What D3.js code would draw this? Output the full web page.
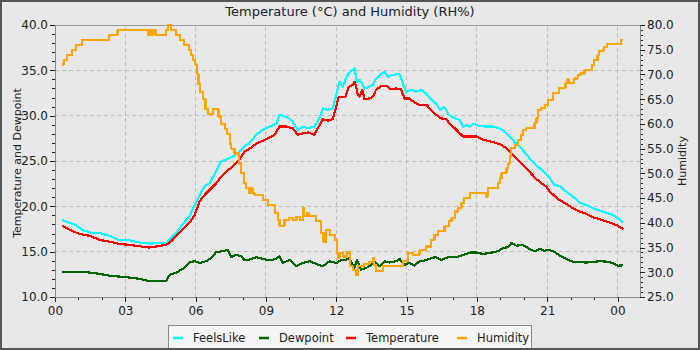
<!DOCTYPE html>
<html>
<head>
<meta charset="utf-8">
<script src="https://cdn.jsdelivr.net/npm/d3@7"></script>
<style>
  body { margin: 0; background: #e8e8e8; }
  svg { display: block; font-family: "DejaVu Sans", sans-serif; }
</style>
</head>
<body>
<svg id="chart"></svg>
<script>
// hour-of-day labels on the x axis (last one is midnight of next day)
const hourTicks = [0, 3, 6, 9, 12, 15, 18, 21, 24]
const hourLabels = ["00", "03", "06", "09", "12", "15", "18", "21", "00"]
const leftTicks = [10, 15, 20, 25, 30, 35, 40]
const rightTicks = [25, 30, 35, 40, 45, 50, 55, 60, 65, 70, 75, 80]

// FeelsLike (°C), hours since midnight
const feelsHours = [0.31, 0.63, 0.91, 1.05, 1.19, 1.62, 1.90, 2.33, 2.76, 3.18, 3.61, 4.01,
    4.75, 4.96, 5.17, 5.46, 5.74, 5.96, 6.17, 6.38, 6.59, 6.88, 7.09, 7.31, 7.59, 7.87, 8.09, 8.27,
    8.59, 8.87, 9.15, 9.44, 9.58, 9.87, 10.08, 10.36, 10.58, 10.79, 11.07, 11.28, 11.43, 11.64, 11.85, 12.03, 12.14, 12.28, 12.42, 12.54,
    12.78, 12.88, 12.99, 13.11, 13.21, 13.42, 13.56, 13.70, 13.92, 14.06, 14.20, 14.41, 14.70, 14.84, 14.98, 15.20, 15.41, 15.62, 15.84, 16.05, 16.26, 16.41, 16.62, 16.80,
    17.06, 17.27, 17.41, 17.56, 17.70, 17.84, 18.12, 18.41, 18.69, 18.97, 19.19, 19.40, 19.62, 19.83, 20.04, 20.25, 20.46, 20.68, 20.89, 21.07,
    21.31, 21.52, 21.80, 22.09, 22.37, 22.66, 22.94, 23.23, 23.51, 23.80, 24.01, 24.25]
const feelsLike = [18.5, 18.15, 17.95, 17.6, 17.35, 17.05, 17.05, 16.75, 16.25, 16.25, 16.0, 15.9,
    15.95, 16.5, 17.05, 18.05, 18.9, 20.15, 21.25, 22.2, 22.55, 23.85, 24.95, 25.15, 25.5, 26.05, 26.65, 26.9,
    27.9, 28.45, 28.8, 29.1, 30.1, 29.85, 29.55, 28.45, 28.8, 28.6, 28.8, 29.7, 30.8, 30.65, 30.8, 32.65, 33.75, 33.2, 34.1, 34.75,
    35.2, 33.75, 33.95, 33.55, 33.0, 33.2, 33.4, 34.1, 34.65, 34.85, 34.3, 34.5, 34.6, 33.55, 32.65, 32.85, 32.65, 32.85, 32.45, 31.75, 31.35, 30.65, 30.95, 30.1,
    29.7, 29.55, 28.8, 29.0, 28.8, 29.1, 28.85, 28.8, 28.8, 28.6, 28.25, 27.7, 27.05, 26.6, 25.95, 25.3, 24.75, 24.2, 23.75, 23.3,
    22.35, 22.25, 21.65, 21.1, 20.45, 20.15, 19.8, 19.55, 19.3, 19.05, 18.7, 18.2]

// Dewpoint (°C)
const dewHours = [0.31, 0.63, 1.05, 1.48, 1.90, 2.33, 2.76, 3.18, 3.61, 4.01,
    4.75, 4.89, 5.17, 5.46, 5.74, 5.96, 6.17, 6.45, 6.66, 6.88, 7.16, 7.38, 7.52, 7.73, 7.94, 8.09, 8.27,
    8.59, 8.87, 9.15, 9.44, 9.58, 9.72, 10.01, 10.29, 10.58, 10.86, 11.14, 11.43, 11.71, 12.00, 12.21, 12.42, 12.54,
    12.78, 12.88, 13.06, 13.28, 13.49, 13.63, 13.85, 14.06, 14.27, 14.56, 14.70, 14.91, 15.12, 15.34, 15.55, 15.84, 16.05, 16.26, 16.48, 16.69, 16.80,
    17.13, 17.41, 17.70, 17.98, 18.27, 18.55, 18.90, 19.12, 19.33, 19.47, 19.69, 19.90, 20.04, 20.25, 20.46, 20.68, 20.89, 21.07,
    21.31, 21.52, 21.80, 22.09, 22.37, 22.66, 22.94, 23.23, 23.51, 23.80, 24.01, 24.25]
const dewpoint = [12.75, 12.75, 12.8, 12.7, 12.55, 12.35, 12.25, 12.15, 12.0, 11.75,
    11.8, 12.45, 12.7, 13.1, 13.85, 13.95, 13.75, 13.95, 14.3, 14.95, 15.05, 15.2, 14.4, 14.65, 14.5, 14.05, 14.1,
    14.4, 14.2, 14.05, 14.2, 14.5, 13.75, 14.1, 13.4, 13.75, 13.95, 13.65, 13.4, 13.95, 13.75, 14.05, 14.1, 14.3,
    13.2, 14.1, 13.0, 13.2, 13.55, 13.95, 13.4, 13.95, 13.8, 13.95, 14.2, 13.55, 13.75, 13.45, 13.95, 14.05, 14.3, 14.4, 14.1, 14.3, 14.4,
    14.4, 14.65, 14.9, 14.9, 14.75, 14.85, 15.05, 15.4, 15.5, 15.95, 15.65, 15.75, 15.65, 15.3, 15.05, 15.3, 15.1, 15.2,
    15.0, 14.6, 14.2, 13.9, 13.85, 13.8, 13.85, 13.95, 13.9, 13.75, 13.45, 13.5]

// Temperature (°C)
const tempHours = [0.31, 0.63, 1.05, 1.48, 1.90, 2.33, 2.76, 3.18, 3.61, 4.01,
    4.75, 4.96, 5.17, 5.46, 5.74, 5.96, 6.17, 6.38, 6.59, 6.88, 7.09, 7.31, 7.59, 7.87, 8.09, 8.27,
    8.59, 8.87, 9.15, 9.37, 9.58, 9.87, 10.15, 10.36, 10.58, 10.79, 11.07, 11.21, 11.43, 11.64, 11.85, 12.00, 12.11, 12.25, 12.39, 12.54,
    12.71, 12.78, 12.85, 12.92, 12.99, 13.11, 13.21, 13.42, 13.56, 13.70, 13.92, 14.13, 14.34, 14.56, 14.77, 14.91, 15.12, 15.34, 15.55, 15.84, 16.05, 16.26, 16.48, 16.69, 16.80,
    17.06, 17.27, 17.41, 17.70, 17.98, 18.20, 18.48, 18.76, 19.05, 19.26, 19.47, 19.69, 19.90, 20.11, 20.32, 20.54, 20.75, 20.96, 21.07,
    21.31, 21.52, 21.80, 22.09, 22.37, 22.66, 22.94, 23.23, 23.51, 23.80, 24.01, 24.25]
const temperature = [17.85, 17.4, 16.95, 16.75, 16.3, 16.1, 15.85, 15.75, 15.6, 15.45,
    15.75, 16.15, 16.7, 17.5, 18.2, 19.05, 20.55, 21.25, 21.8, 22.55, 23.3, 23.85, 24.4, 25.15, 26.05, 26.3,
    26.9, 27.25, 27.6, 27.9, 28.8, 28.8, 28.6, 27.9, 28.05, 28.15, 27.9, 28.6, 29.6, 29.45, 29.6, 31.0, 32.1, 32.05, 32.1, 33.2,
    33.4, 33.75, 33.2, 32.3, 32.1, 32.85, 31.8, 31.9, 32.1, 32.85, 33.3, 33.3, 32.9, 33.0, 32.9, 31.9, 31.9, 31.45, 31.2, 31.2, 30.65, 30.1, 29.7, 29.6, 29.25,
    28.6, 28.05, 27.7, 27.7, 27.7, 27.4, 27.2, 27.05, 26.8, 26.4, 25.85, 25.3, 24.75, 24.2, 23.6, 23.0, 22.55, 22.2, 21.75,
    21.15, 20.7, 20.3, 19.8, 19.45, 19.2, 18.8, 18.6, 18.35, 18.1, 17.85, 17.5]

// Humidity (RH%), value holds until the next change
const humHours = [0.31, 0.37, 0.51, 0.73, 0.91, 1.15, 2.29, 2.67, 3.97, 4.04, 4.12, 4.20, 4.29, 4.75, 4.82, 4.96,
    5.15, 5.32, 5.50, 5.72, 5.81, 5.88, 5.98, 6.07, 6.12, 6.20, 6.31, 6.42, 6.52, 6.74, 6.98, 7.09, 7.24, 7.33, 7.45, 7.52, 7.66, 7.85, 7.95, 8.06, 8.16, 8.27,
    8.35, 8.43, 8.51, 8.87, 9.08, 9.37, 9.51, 9.58, 9.79, 10.00, 10.15, 10.30, 10.45, 10.58, 10.62, 10.75, 10.85, 11.14, 11.36, 11.46, 11.57, 11.72, 11.93, 12.03, 12.08, 12.14, 12.30, 12.45,
    12.57, 12.70, 12.85, 12.92, 13.20, 13.40, 13.56, 13.62, 13.70, 13.99, 14.84, 15.05, 15.27, 15.55, 15.84, 16.05, 16.19, 16.33, 16.62, 16.80,
    16.92, 17.06, 17.20, 17.34, 17.44, 17.70, 18.40, 18.45, 18.48, 18.90, 18.97, 19.05, 19.26, 19.33, 19.40, 19.47, 19.62, 19.76, 19.87, 19.97, 20.11, 20.46, 20.54, 20.61, 20.75, 20.89, 21.04,
    21.24, 21.49, 21.78, 21.86, 21.92, 22.16, 22.30, 22.40, 22.59, 22.92, 23.01, 23.15, 23.22, 23.37, 23.44, 23.54, 24.15, 24.25]
const humidity = [72, 73, 74, 75, 76, 77, 78, 79, 78, 79, 78, 79, 78, 79, 80, 79,
    78, 77, 76, 75, 74, 73, 72, 70, 68, 66.5, 65, 63, 62, 63, 61.5, 60, 59, 58, 56, 55, 54, 52, 50, 48, 47, 46,
    47, 46, 45.7, 44.6, 43.6, 42, 40.6, 39.4, 40.6, 41, 40.6, 41.2, 40.6, 43, 41.3, 42, 41.3, 40.3, 38, 36.2, 38.6, 37.6, 36.6, 33.9, 32.9, 33.9, 33.2, 34,
    31.2, 30.5, 29.5, 31.2, 31.7, 32, 32.9, 31.5, 30.2, 31.2, 32.2, 33.9, 33.5, 34.5, 35.2, 36.6, 37.6, 38.3, 39.3, 40.3,
    40.9, 42.3, 43, 44, 45, 46.1, 45.3, 46.1, 47.1, 48, 49, 50, 51, 52, 53.4, 55.1, 55.8, 56.8, 57.8, 58.8, 59.1, 60.1, 61.1, 62.8, 63.2, 63.8, 64.8,
    66.2, 67.2, 68.2, 69, 68.2, 69.2, 69.9, 70.2, 70.9, 71.9, 72.9, 73.9, 74.8, 75, 75.6, 76.1, 77, 77]

const seriesNames = ["FeelsLike", "Dewpoint", "Temperature", "Humidity"]
const seriesColors = ["#00ffff", "#006400", "#ff0000", "#ffa500"]

class WeatherChart {
    constructor() {
        this.visWidth = 700
        this.visHeight = 350
        this.margins = {left: 55, right: 60, top: 25, bottom: 53}

        this.svg = d3.select("#chart").attr("width", this.visWidth).attr("height", this.visHeight)

        this.scaleX = d3.scaleLinear().domain([0, 24.96]).range([this.margins.left, this.visWidth - this.margins.right])
        this.scaleY = d3.scaleLinear().domain([10, 40]).range([this.visHeight - this.margins.bottom, this.margins.top])
        this.scaleH = d3.scaleLinear().domain([25, 80]).range([this.visHeight - this.margins.bottom, this.margins.top])

        this.drawBackground()
        this.drawGrid()
        this.drawLines()
        this.drawAxis()
        this.drawLabels()
        this.drawLegend()
    }

    drawBackground() {
        this.svg.append("rect").attr("width", this.visWidth).attr("height", this.visHeight).attr("fill", "#e8e8e8")
    }

    drawGrid() {
        let grid = this.svg.append("g").attr("stroke", "#bdbdbd").attr("stroke-dasharray", "4,3").attr("shape-rendering", "crispEdges")
        let [x0, x1] = this.scaleX.range()
        let [y0, y1] = this.scaleY.range()
        grid.selectAll(".h").data(leftTicks.slice(1, -1)).join("line")
            .attr("x1", x0).attr("x2", x1)
            .attr("y1", d => this.scaleY(d)).attr("y2", d => this.scaleY(d))
        grid.selectAll(".v").data(hourTicks.slice(1)).join("line")
            .attr("x1", d => this.scaleX(d)).attr("x2", d => this.scaleX(d))
            .attr("y1", y0).attr("y2", y1)
        // top border of the plot
        this.svg.append("line").attr("x1", x0).attr("x2", x1).attr("y1", y1).attr("y2", y1)
            .attr("stroke", "#999").attr("shape-rendering", "crispEdges")
    }

    drawLines() {
        let all = [
            {hours: feelsHours, values: feelsLike, scale: this.scaleY, curve: d3.curveLinear},
            {hours: dewHours, values: dewpoint, scale: this.scaleY, curve: d3.curveLinear},
            {hours: tempHours, values: temperature, scale: this.scaleY, curve: d3.curveLinear},
            {hours: humHours, values: humidity, scale: this.scaleH, curve: d3.curveStepAfter}
        ]
        let lines = this.svg.append("g").attr("id", "lines")
        all.forEach((s, i) => {
            let gen = d3.line().curve(s.curve)
                .x((d, j) => this.scaleX(s.hours[j]))
                .y(d => s.scale(d))
            lines.append("path")
                .attr("d", gen(s.values))
                .attr("fill", "none")
                .attr("stroke", seriesColors[i])
                .attr("stroke-width", 2.2)
                .attr("stroke-linejoin", "round")
                .attr("shape-rendering", "crispEdges")
        })
    }

    drawAxis() {
        let bottom = this.visHeight - this.margins.bottom
        let right = this.visWidth - this.margins.right
        let style = g => {
            g.select(".domain").attr("stroke", "#888")
            g.selectAll(".tick line").attr("stroke", "#222")
            g.selectAll("text").attr("fill", "#222").attr("font-size", 12).attr("font-family", "DejaVu Sans")
            g.attr("shape-rendering", "crispEdges")
        }

        this.svg.append("g").attr("transform", `translate(0, ${bottom})`)
            .call(d3.axisBottom(this.scaleX).tickValues(d3.range(0, 25)).tickFormat("").tickSize(3).tickSizeOuter(0)).call(style)
        this.svg.append("g").attr("transform", `translate(0, ${bottom})`)
            .call(d3.axisBottom(this.scaleX).tickValues(hourTicks).tickFormat((d, i) => hourLabels[i]).tickSize(5).tickPadding(4).tickSizeOuter(0)).call(style)

        this.svg.append("g").attr("transform", `translate(${this.margins.left}, 0)`)
            .call(d3.axisLeft(this.scaleY).tickValues(d3.range(10, 41)).tickFormat("").tickSize(3).tickSizeOuter(0)).call(style)
        this.svg.append("g").attr("transform", `translate(${this.margins.left}, 0)`)
            .call(d3.axisLeft(this.scaleY).tickValues(leftTicks).tickFormat(d3.format(".1f")).tickSize(5).tickPadding(2).tickSizeOuter(0)).call(style)

        this.svg.append("g").attr("transform", `translate(${right}, 0)`)
            .call(d3.axisRight(this.scaleH).tickValues(d3.range(25, 81)).tickFormat("").tickSize(3).tickSizeOuter(0)).call(style)
        this.svg.append("g").attr("transform", `translate(${right}, 0)`)
            .call(d3.axisRight(this.scaleH).tickValues(rightTicks).tickFormat(d3.format(".1f")).tickSize(5).tickPadding(2).tickSizeOuter(0)).call(style)
    }

    drawLabels() {
        this.svg.append("text").text("Temperature (°C) and Humidity (RH%)")
            .attr("x", 350).attr("y", 16).attr("text-anchor", "middle")
            .attr("font-size", 13).attr("fill", "#222")
        this.svg.append("text").text("Temperature and Dewpoint")
            .attr("transform", "translate(21, 163) rotate(-90)").attr("text-anchor", "middle")
            .attr("font-size", 11).attr("fill", "#222")
        this.svg.append("text").text("Humidity")
            .attr("transform", "translate(686, 161) rotate(-90)").attr("text-anchor", "middle")
            .attr("font-size", 11).attr("fill", "#222")
    }

    drawLegend() {
        let legend = this.svg.append("g").attr("id", "legend")
        legend.append("rect")
            .attr("x", 168.5).attr("y", 325.5).attr("width", 363).attr("height", 26)
            .attr("fill", "#f5f5f5").attr("stroke", "#888")
        let dashX = [173, 259, 346, 457]
        let items = legend.selectAll(".item").data(seriesNames).join("g")
        items.append("line")
            .attr("x1", (d, i) => dashX[i]).attr("x2", (d, i) => dashX[i] + 10)
            .attr("y1", 338).attr("y2", 338)
            .attr("stroke", (d, i) => seriesColors[i]).attr("stroke-width", 2.5)
        items.append("text").text(d => d)
            .attr("x", (d, i) => dashX[i] + 20).attr("y", 342)
            .attr("font-size", 11.5).attr("fill", "#222")
        // outer frame, drawn last so it sits over the legend's bottom edge
        this.svg.append("rect")
            .attr("x", 1).attr("y", 1).attr("width", this.visWidth - 2).attr("height", this.visHeight - 2)
            .attr("fill", "none").attr("stroke", "#555").attr("stroke-width", 2)
    }
}

new WeatherChart()
</script>
</body>
</html>
